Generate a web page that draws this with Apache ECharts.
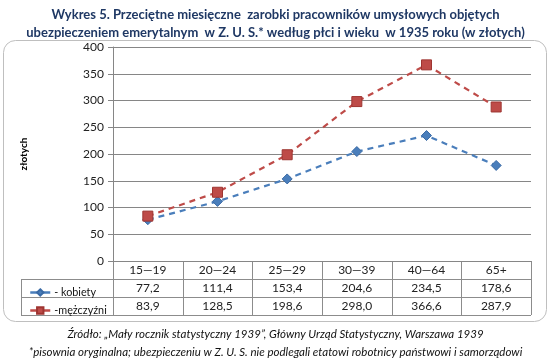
<!DOCTYPE html>
<html><head><meta charset="utf-8">
<script src="https://cdn.jsdelivr.net/npm/echarts@6/dist/echarts.min.js"></script>
<style>html,body{margin:0;padding:0;background:#fff}#c{width:551px;height:358px}</style>
</head><body><div id="c"></div>
<script>
const categories = ['15—19', '20—24', '25—29', '30—39', '40—64', '65+'];
const kobiety = [77.2, 111.4, 153.4, 204.6, 234.5, 178.6];
const mezczyzni = [83.9, 128.5, 198.6, 298.0, 366.6, 287.9];
const seriesNames = ['kobiety', 'mężczyźni'];
const legendLabels = ['- kobiety', '-mężczyźni'];
const yMin = 0, yMax = 400, yInterval = 50;
const titleLines = ['Wykres 5. Przeciętne miesięczne  zarobki pracowników umysłowych objętych',
  'ubezpieczeniem emerytalnym  w Z. U. S.* według płci i wieku  w 1935 roku (w złotych)'];
const footLines = ['Źródło: „Mały rocznik statystyczny 1939”, Główny Urząd Statystyczny, Warszawa 1939',
  '*pisownia oryginalna; ubezpieczeniu w Z. U. S. nie podlegali etatowi robotnicy państwowi i samorządowi'];
const yName = 'złotych';

const FONT = 'Lato';
const colors = ['#4A7EBB', '#BE4B48'];
const fmt = v => v.toFixed(1).replace('.', ',');

const chart = echarts.init(document.getElementById('c'), null, {renderer: 'canvas'});
const seriesData = [kobiety, mezczyzni];

const option = {
  animation: false,
  backgroundColor: '#fff',
  textStyle: {fontFamily: FONT},
  title: [
    {text: titleLines.join('\n'), left: 'center', top: 1,
     textStyle: {fontFamily: FONT, fontSize: 13, fontWeight: 'bold', color: '#1F3864', lineHeight: 18}},
    {text: footLines.join('\n'), left: 'center', top: 320,
     textStyle: {fontFamily: FONT, fontSize: 11.5, fontStyle: 'italic', fontWeight: 'normal', color: '#111', lineHeight: 18}}
  ],
  grid: {left: 113, right: 20, top: 47, bottom: 97, containLabel: false},
  xAxis: {type: 'category', data: categories, boundaryGap: true,
    axisLine: {show: true, lineStyle: {color: '#868686'}},
    axisTick: {show: false}, axisLabel: {show: false}, splitLine: {show: false}},
  yAxis: {type: 'value', min: yMin, max: yMax, interval: yInterval,
    name: yName, nameLocation: 'middle', nameRotate: 90, nameGap: 84,
    nameTextStyle: {fontFamily: FONT, fontSize: 10, fontWeight: 'bold', color: '#000'},
    axisLine: {show: true, lineStyle: {color: '#868686'}},
    axisTick: {show: true, inside: false, length: 5, lineStyle: {color: '#868686'}},
    axisLabel: {fontFamily: FONT, fontSize: 12, color: '#222', margin: 9},
    splitLine: {show: true, lineStyle: {color: '#868686', width: 1}}},
  legend: seriesNames.map((n, i) => ({
    data: [n], left: 24, top: 282 + i * 18, itemWidth: 20, itemHeight: 8, itemGap: 0,
    formatter: () => legendLabels[i],
    lineStyle: {type: 'solid', width: 2.5},
    textStyle: {fontFamily: FONT, fontSize: 10.8, color: '#111', padding: [0, 0, 0, -1]}
  })),
  series: seriesNames.map((n, i) => ({
    name: n, type: 'line', data: seriesData[i],
    symbol: i === 0 ? 'diamond' : 'rect', symbolSize: 10,
    lineStyle: {color: colors[i], width: 2.2, type: [6, 5]},
    itemStyle: {color: colors[i], borderColor: i === 0 ? '#3a6aa5' : '#9e3531', borderWidth: 1},
    z: 3 + i
  }))
};
chart.setOption(option);

// table under the plot, positioned from the category axis
const cx = categories.map((c, i) => chart.convertToPixel({xAxisIndex: 0}, i));
const bw = cx.length > 1 ? cx[1] - cx[0] : 60;
const x0 = cx[0] - bw / 2;
const x1 = cx[cx.length - 1] + bw / 2;
const yTop = chart.convertToPixel({yAxisIndex: 0}, 0);
const rowH = 18;
const legendLeft = 21;
const lineCol = '#8c8c8c';
const g = [];
// outer rounded box
g.push({type: 'rect', shape: {x: 3.5, y: 40.5, width: 543, height: 281, r: 12},
  style: {fill: 'none', stroke: '#bfbfbf', lineWidth: 1}, z: -1});
// horizontal lines
for (let r = 0; r <= 3; r++) {
  const y = Math.round(yTop + r * rowH) + 0.5;
  const xs = r === 0 ? x0 : legendLeft;
  g.push({type: 'line', shape: {x1: xs, y1: y, x2: x1, y2: y}, style: {stroke: lineCol, lineWidth: 1}});
}
// vertical lines
for (let c = 0; c <= categories.length; c++) {
  const x = Math.round(x0 + c * bw) + 0.5;
  g.push({type: 'line', shape: {x1: x, y1: yTop, x2: x, y2: yTop + 3 * rowH}, style: {stroke: lineCol, lineWidth: 1}});
}
g.push({type: 'line', shape: {x1: legendLeft + 0.5, y1: yTop + rowH, x2: legendLeft + 0.5, y2: yTop + 3 * rowH},
  style: {stroke: lineCol, lineWidth: 1}});
// texts
const rows = [categories, kobiety.map(fmt), mezczyzni.map(fmt)];
rows.forEach((row, r) => {
  row.forEach((t, c) => {
    g.push({type: 'text', x: cx[c], y: yTop + r * rowH + rowH / 2 + 0.5,
      style: {text: t, fontFamily: FONT, fontSize: 12, fill: '#222', align: 'center', verticalAlign: 'middle'}});
  });
});
chart.setOption({graphic: {elements: g}});
</script></body></html>
